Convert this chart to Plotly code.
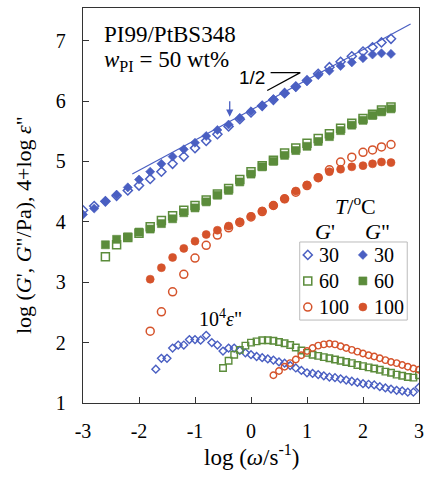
import plotly.graph_objects as go

# ---- storage / loss moduli, log(omega) grids ----
x_30 = [-3.0, -2.8, -2.6, -2.4, -2.2, -2.0, -1.8, -1.6, -1.4, -1.2, -1.0, -0.8, -0.6, -0.4,
        -0.2, 0.0, 0.2, 0.4, 0.6, 0.8, 1.0, 1.2, 1.4, 1.6, 1.8, 2.0, 2.17, 2.33, 2.5]
gp_30 = [4.19, 4.26, 4.34, 4.43, 4.52, 4.60, 4.71, 4.83, 4.96, 5.08, 5.22, 5.34, 5.45, 5.58,
         5.70, 5.81, 5.92, 6.02, 6.13, 6.24, 6.34, 6.45, 6.56, 6.65, 6.74, 6.82, 6.89, 6.97, 7.03]
gpp_30 = [4.12, 4.22, 4.34, 4.45, 4.57, 4.70, 4.83, 4.96, 5.08, 5.20, 5.31, 5.42, 5.52, 5.61,
          5.72, 5.83, 5.92, 6.03, 6.13, 6.23, 6.33, 6.43, 6.50, 6.58, 6.64, 6.71, 6.77, 6.79, 6.78]

x_60 = [-2.6, -2.4, -2.2, -2.0, -1.8, -1.6, -1.4, -1.2, -1.0, -0.8, -0.6, -0.4, -0.2, 0.0,
        0.2, 0.4, 0.6, 0.8, 1.0, 1.2, 1.4, 1.6, 1.8, 2.0, 2.17, 2.33, 2.5]
gp_60 = [3.42, 3.62, 3.74, 3.81, 3.92, 4.02, 4.10, 4.19, 4.27, 4.36, 4.46, 4.55, 4.70, 4.83,
         4.93, 5.02, 5.14, 5.22, 5.30, 5.38, 5.46, 5.55, 5.63, 5.71, 5.78, 5.85, 5.90]
gpp_60 = [3.62, 3.71, 3.75, 3.83, 3.88, 3.97, 4.05, 4.15, 4.23, 4.33, 4.44, 4.52, 4.66, 4.79,
          4.91, 5.00, 5.10, 5.18, 5.25, 5.33, 5.41, 5.51, 5.60, 5.68, 5.76, 5.82, 5.87]

x_100 = [-1.8, -1.6, -1.4, -1.2, -1.0, -0.8, -0.6, -0.4, -0.2, 0.0, 0.2, 0.4, 0.6, 0.8,
         1.0, 1.2, 1.4, 1.6, 1.8, 2.0, 2.17, 2.33, 2.5]
gp_100 = [2.19, 2.51, 2.84, 3.13, 3.40, 3.61, 3.78, 3.90, 3.99, 4.08, 4.17, 4.27, 4.38, 4.49,
          4.60, 4.73, 4.86, 4.99, 5.07, 5.15, 5.19, 5.24, 5.28]
gpp_100 = [3.05, 3.24, 3.41, 3.56, 3.68, 3.79, 3.86, 3.93, 4.00, 4.09, 4.18, 4.27, 4.38, 4.51,
           4.61, 4.73, 4.83, 4.87, 4.91, 4.93, 4.96, 4.99, 4.98]

# ---- dielectric loss, plotted as 4 + log eps'' ----
xe_30 = [-1.7, -1.6, -1.5, -1.4, -1.3, -1.2, -1.1, -1.0, -0.9, -0.8, -0.7, -0.6, -0.5, -0.4,
         -0.3, -0.2, -0.1, 0.0, 0.1, 0.2, 0.3, 0.4, 0.5, 0.6, 0.7, 0.8, 0.9, 1.0, 1.1, 1.2,
         1.3, 1.4, 1.5, 1.6, 1.7, 1.8, 1.9, 2.0, 2.1, 2.2, 2.3, 2.4, 2.5, 2.6, 2.7, 2.8, 2.9, 3.0]
eps_30 = [1.56, 1.74, 1.74, 1.91, 1.96, 1.96, 2.05, 2.05, 2.04, 2.12, 2.00, 1.96, 1.86, 1.91,
          1.91, 1.87, 1.83, 1.80, 1.77, 1.75, 1.73, 1.71, 1.68, 1.66, 1.62, 1.58, 1.54, 1.50,
          1.49, 1.47, 1.45, 1.43, 1.42, 1.40, 1.38, 1.36, 1.34, 1.32, 1.31, 1.30, 1.27, 1.25,
          1.23, 1.21, 1.20, 1.18, 1.18, 1.26]

xe_60 = [-0.5, -0.4, -0.3, -0.2, -0.1, 0.0, 0.1, 0.2, 0.3, 0.4, 0.5, 0.6, 0.7, 0.8, 0.9, 1.0,
         1.1, 1.2, 1.3, 1.4, 1.5, 1.6, 1.7, 1.8, 1.9, 2.0, 2.1, 2.2, 2.3, 2.4, 2.5, 2.6, 2.7,
         2.8, 2.9, 3.0]
eps_60 = [1.58, 1.70, 1.80, 1.88, 1.95, 2.00, 2.02, 2.04, 2.04, 2.03, 2.01, 1.99, 1.96, 1.92,
          1.87, 1.83, 1.80, 1.78, 1.76, 1.74, 1.72, 1.70, 1.68, 1.66, 1.63, 1.61, 1.59, 1.57,
          1.55, 1.52, 1.50, 1.47, 1.45, 1.43, 1.42, 1.46]

xe_100 = [0.4, 0.5, 0.6, 0.7, 0.8, 0.9, 1.0, 1.1, 1.2, 1.3, 1.4, 1.5, 1.6, 1.7, 1.8, 1.9, 2.0,
          2.1, 2.2, 2.3, 2.4, 2.5, 2.6, 2.7, 2.8, 2.9, 3.0]
eps_100 = [1.46, 1.53, 1.60, 1.66, 1.72, 1.79, 1.86, 1.91, 1.95, 1.97, 1.98, 1.97, 1.94, 1.91,
           1.88, 1.85, 1.82, 1.79, 1.77, 1.74, 1.71, 1.68, 1.66, 1.63, 1.60, 1.57, 1.55]

# ---- guide line with slope 1/2 and the slope wedge ----
guide_x = [-2.12, 2.85]
guide_y = [4.79, 7.275]
wedge_x = [0.35, 0.88, 0.29]
wedge_y = [6.47, 6.47, 6.175]

# ---- axis ticks ----
x_ticks = [-3, -2, -1, 0, 1, 2, 3]
x_ticktext = ["-3", "-2", "-1", "0", "1", "2", "3"]
y_ticks = [1, 2, 3, 4, 5, 6, 7]
y_ticktext = ["1", "2", "3", "4", "5", "6", "7"]

# ---- legend entries ----
temps = ["30", "60", "100"]

BLUE = "#4A5FC2"
GREEN = "#5B8C3B"
RED = "#D5532B"
colors = [BLUE, GREEN, RED]
open_sym = ["diamond-open", "square-open", "circle-open"]
fill_sym = ["diamond", "square", "circle"]
msize = [7, 8, 8]
esize = [6, 6.5, 6.5]

SERIF = "Liberation Serif"

fig = go.Figure()

# slope-1/2 reference line
fig.add_trace(go.Scatter(x=guide_x, y=guide_y, mode="lines",
                         line=dict(color=BLUE, width=1.2), showlegend=False, hoverinfo="skip"))

moduli = [(x_30, gp_30, gpp_30), (x_60, gp_60, gpp_60), (x_100, gp_100, gpp_100)]
for i, (xs, gp, gpp) in enumerate(moduli):
    fig.add_trace(go.Scatter(x=xs, y=gpp, mode="markers", showlegend=False,
                             marker=dict(symbol=fill_sym[i], size=msize[i], color=colors[i],
                                         line=dict(width=0.6, color=colors[i]))))
    fig.add_trace(go.Scatter(x=xs, y=gp, mode="markers", showlegend=False,
                             marker=dict(symbol=open_sym[i], size=msize[i], color=colors[i],
                                         line=dict(width=1.5, color=colors[i]))))

dielectric = [(xe_30, eps_30), (xe_60, eps_60), (xe_100, eps_100)]
for i, (xs, ys) in enumerate(dielectric):
    fig.add_trace(go.Scatter(x=xs, y=ys, mode="markers", showlegend=False,
                             marker=dict(symbol=open_sym[i], size=esize[i], color=colors[i],
                                         line=dict(width=1.4, color=colors[i]))))

# slope wedge
fig.add_trace(go.Scatter(x=wedge_x, y=wedge_y, mode="lines", showlegend=False,
                         line=dict(color="black", width=1.2), hoverinfo="skip"))

# legend keys on an overlay frame spanning the plot area (0..1 both ways)
key_open_x, key_fill_x = 0.669, 0.833
row_y = [0.375, 0.309, 0.243]
for i in range(3):
    fig.add_trace(go.Scatter(x=[key_open_x], y=[row_y[i]], xaxis="x2", yaxis="y2",
                             mode="markers", showlegend=False,
                             marker=dict(symbol=open_sym[i], size=msize[i], color=colors[i],
                                         line=dict(width=1.5, color=colors[i]))))
    fig.add_trace(go.Scatter(x=[key_fill_x], y=[row_y[i]], xaxis="x2", yaxis="y2",
                             mode="markers", showlegend=False,
                             marker=dict(symbol=fill_sym[i], size=msize[i], color=colors[i],
                                         line=dict(width=0.6, color=colors[i]))))


def label(x, y, text, size, ref="paper", xanchor="center", family=SERIF, angle=0):
    return dict(x=x, y=y, xref=ref, yref=ref if ref == "paper" else "y", text=text,
                showarrow=False, xanchor=xanchor, yanchor="middle", textangle=angle,
                font=dict(family=family, size=size, color="black"))


ann = []
for i, t in enumerate(temps):
    for xk in (key_open_x, key_fill_x):
        ann.append(label(xk + 0.026, row_y[i], t, 20, xanchor="left"))

ann += [
    label(0.812, 0.501, "<i>T</i>/<sup>o</sup>C", 22),
    label(0.721, 0.433, "<i>G</i>'", 22),
    label(0.876, 0.433, "<i>G</i>\"", 22),
    label(0.058, 0.934, "PI99/PtBS348", 23, xanchor="left"),
    label(0.058, 0.866, "<i>w</i><sub>PI</sub> = 50 wt%", 23, xanchor="left"),
    label(0.01, 6.39, "1/2", 19, ref="x", family="Liberation Sans"),
    label(-0.54, 2.40, "10<sup>4</sup><i>ε</i>\"", 20, ref="x"),
    # axis titles
    label(-0.179, 0.45, "log (<i>G</i>', <i>G</i>\"/Pa), 4+log <i>ε</i>\"", 22, angle=-90),
    label(0.5, -0.132, "log (<i>ω</i>/s<sup>-1</sup>)", 23),
    # arrow marking the G'/G'' crossover
    dict(x=-0.38, y=5.74, xref="x", yref="y", ax=-0.38, ay=6.02, axref="x", ayref="y",
         text="", showarrow=True, arrowhead=2, arrowsize=1.1, arrowwidth=1.3,
         arrowcolor=BLUE, standoff=0, startstandoff=0),
]

axis_common = dict(showgrid=False, zeroline=False, showline=True, linecolor="#333",
                   linewidth=1.3, mirror=True, ticks="inside", ticklen=6, tickwidth=1.2,
                   tickcolor="#333", tickfont=dict(family=SERIF, size=20, color="black"))

fig.update_layout(
    width=430, height=477,
    margin=dict(l=83, r=6, t=8, b=74),
    paper_bgcolor="white", plot_bgcolor="white",
    showlegend=False,
    xaxis=dict(range=[-3, 3], tickvals=x_ticks, ticktext=x_ticktext,
               ticklabelstandoff=10, **axis_common),
    yaxis=dict(range=[1, 7.54], tickvals=y_ticks, ticktext=y_ticktext,
               ticklabelstandoff=12, **axis_common),
    xaxis2=dict(overlaying="x", range=[0, 1], visible=False, fixedrange=True),
    yaxis2=dict(overlaying="y", range=[0, 1], visible=False, fixedrange=True),
    annotations=ann,
    shapes=[dict(type="rect", xref="paper", yref="paper", x0=0.645, x1=0.965,
                 y0=0.210, y1=0.4076, line=dict(color="#BBBBBB", width=1),
                 fillcolor="rgba(0,0,0,0)", layer="below")],
)

fig.write_html("out.html")
